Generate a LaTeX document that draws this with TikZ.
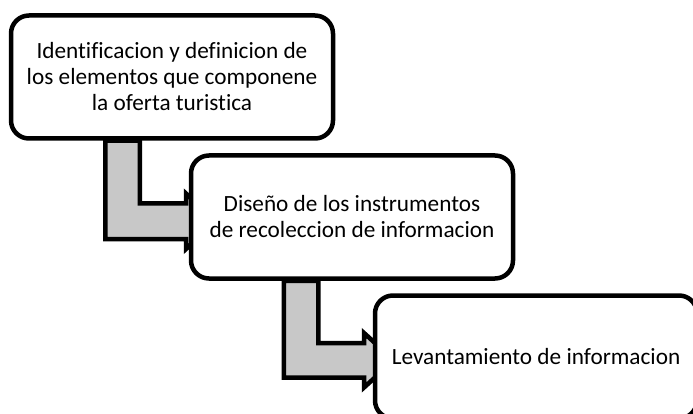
\documentclass[tikz,border=0pt]{standalone}
\usepackage{fontspec}
\setmainfont{Carlito}[Ligatures=NoCommon]
\usetikzlibrary{backgrounds}
\definecolor{relleno}{RGB}{200,200,200}

\begin{document}
\begin{tikzpicture}[
  x=1pt, y=-1pt,
  caja/.style={rectangle, draw=black, fill=white, line width=4.5pt, rounded corners=18pt,
    minimum width=322pt, minimum height=123pt, align=center,
    font=\fontsize{23.25}{26}\selectfont},
  flecha/.style={draw=black, fill=relleno, line width=4.5pt, line join=miter}
]
\useasboundingbox (0,0) rectangle (693,414);
\clip (0,0) rectangle (693,414);

\node[caja] (ident) at (172,77) {Identificacion y definicion de\\los elementos que componene\\la oferta turistica};
\node[caja] (diseno) at (352,217) {Diseño de los instrumentos\\de recoleccion de informacion};
\node[caja] (levant) at (536,357) {Levantamiento de informacion};

% Flechas
\begin{scope}[on background layer]
\draw[flecha] ([xshift=-66.75pt]ident.south) -- ++(0,98.25) -- ++(80.75,0) -- ++(0,10)
  -- ++(30,-27.75) -- ++(-30,-27.75) -- ++(0,10) -- ++(-46.25,0) -- ++(0,-62.75) -- cycle;
\draw[flecha] ([xshift=-68.25pt]diseno.south) -- ++(0,96.75) -- ++(80.25,0) -- ++(0,10)
  -- ++(30,-27.25) -- ++(-30,-27.25) -- ++(0,10) -- ++(-45.75,0) -- ++(0,-62.25) -- cycle;
\end{scope}

\end{tikzpicture}
\end{document}
